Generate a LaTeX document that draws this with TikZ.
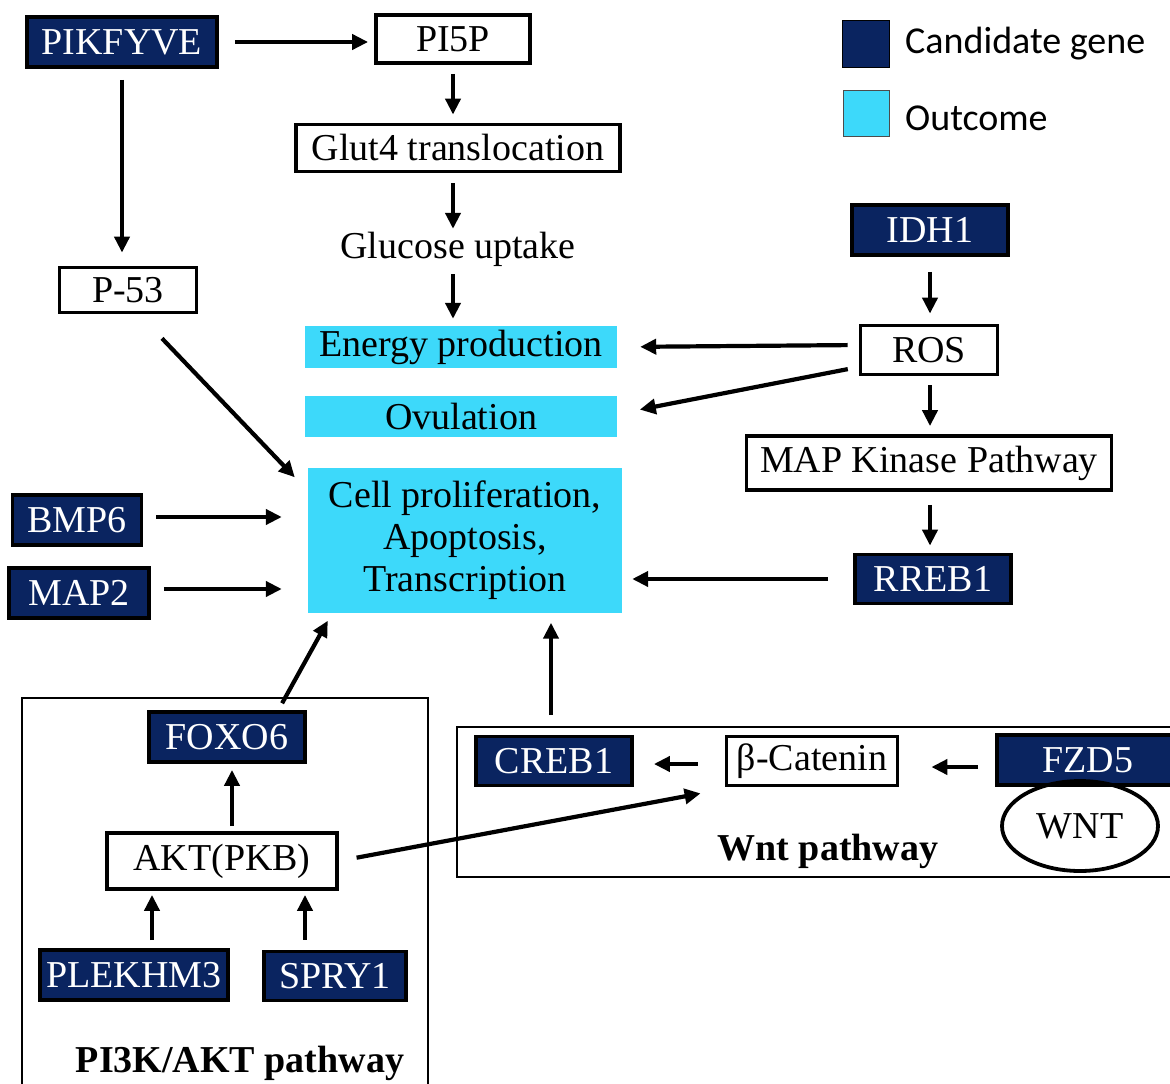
\documentclass[tikz,border=0pt]{standalone}
\usepackage{fontspec}
\setmainfont{Liberation Serif}
\newfontfamily\legendfont{Carlito}
\usetikzlibrary{arrows.meta,shapes.geometric}
\definecolor{navyc}{RGB}{10,36,96}
\definecolor{cyanc}{RGB}{61,217,250}
\tikzset{
  base/.style={inner sep=2pt, anchor=center},
  gene/.style={base, fill=navyc, draw=black, line width=3.8pt, text=white},
  plainbox/.style={base, fill=white, draw=black, line width=3.8pt},
  outc/.style={base, fill=cyanc, draw=none},
  arr/.style={-{Triangle[length=16pt,width=15pt]}, line width=4.2pt},
  grp/.style={draw=black, line width=2.5pt},
  lbl/.style={font=\fontsize{38}{42}\selectfont\bfseries}
}
\begin{document}
\begin{tikzpicture}[x=1pt,y=-1pt,font=\fontsize{38}{42}\selectfont]
\useasboundingbox (0,0) rectangle (1170,1084);

% group frames
\draw[grp] (22,1095) -- (22,698) -- (428,698) -- (428,1095);
\draw[grp] (1180,727) -- (457,727) -- (457,877) -- (1180,877);
\coordinate (pitop) at (285,698);
\coordinate (wtop) at (551,727);

% nodes
\node[gene, minimum width=190pt, minimum height=50pt] (pik) at (122,42) {PIKFYVE};
\node[plainbox, minimum width=154pt, minimum height=48pt] (pi5p) at (453,39) {PI5P};
\node[plainbox, minimum width=324pt, minimum height=47pt] (glut) at (458,148) {Glut4 translocation};
\node[base, minimum height=40pt] (gluc) at (458,249) {Glucose uptake};
\node[outc, minimum width=312pt, minimum height=42pt] (energy) at (461,347) {Energy production};
\node[outc, minimum width=312pt, minimum height=41pt] (ovul) at (461,416) {Ovulation};
\node[outc, minimum width=314pt, minimum height=145pt, align=center] (cell) at (465,540) {Cell proliferation,\\Apoptosis,\\Transcription};
\node[plainbox, minimum width=137pt, minimum height=45pt] (p53) at (128,290) {P-53};
\node[gene, minimum width=129pt, minimum height=50pt] (bmp6) at (77,520) {BMP6};
\node[gene, minimum width=140pt, minimum height=50pt] (map2) at (79,593) {MAP2};
\node[gene, minimum width=156pt, minimum height=50pt] (idh1) at (930,230) {IDH1};
\node[plainbox, minimum width=137pt, minimum height=49pt] (ros) at (929,350) {ROS};
\node[plainbox, minimum width=365pt, minimum height=54pt] (mapk) at (929,463) {MAP Kinase Pathway};
\node[gene, minimum width=156pt, minimum height=49pt] (rreb1) at (933,579) {RREB1};
\node[gene, minimum width=156pt, minimum height=50pt] (foxo6) at (227,737) {FOXO6};
\node[plainbox, minimum width=230pt, minimum height=56pt] (akt) at (222,861) {AKT(PKB)};
\node[gene, minimum width=188pt, minimum height=50pt] (plek) at (134,975) {PLEKHM3};
\node[gene, minimum width=142pt, minimum height=49pt] (spry) at (335,976) {SPRY1};
\node[lbl] (pilbl) at (240,1063) {PI3K/AKT pathway};
\node[gene, minimum width=156pt, minimum height=49pt] (creb1) at (554,761) {CREB1};
\node[plainbox, minimum width=171pt, minimum height=49pt] (bcat) at (812,761) {β-Catenin};
\node[gene, minimum width=182pt, minimum height=50pt] (fzd5) at (1088,760) {FZD5};
\node[base, ellipse, draw=black, line width=3.8pt, minimum width=156pt, minimum height=90pt] (wnt) at (1080,826) {WNT};
\node[lbl] (wntlbl) at (828,851) {Wnt pathway};

% legend
\node[base, fill=navyc, draw=black, line width=1pt, minimum width=47pt, minimum height=47pt] (legnavy) at (866,44) {};
\node[base, fill=cyanc, draw=black!70, line width=1pt, minimum width=46pt, minimum height=46pt] (legcyan) at (866,113) {};
\node[anchor=west, inner sep=0pt, font=\legendfont\fontsize{38}{42}\selectfont] (legt1) at (905,44) {Candidate gene};
\node[anchor=west, inner sep=0pt, font=\legendfont\fontsize{38}{42}\selectfont] (legt2) at (905,118) {Outcome};

% arrows
\draw[arr, shorten <=16pt, shorten >=6pt] (pik.east) -- (pik.east -| pi5p.west);
\draw[arr, shorten <=11pt, shorten >=13pt] (pik.south) -- (pik.south |- p53.north);
\draw[arr, shorten <=9pt, shorten >=8pt] (pi5p.south) -- (pi5p.south |- glut.north);
\draw[arr, shorten <=10pt, shorten >=0pt] (pi5p.south |- glut.south) -- (pi5p.south |- gluc.north);
\draw[arr, shorten <=5pt, shorten >=7pt] (pi5p.south |- gluc.south) -- (pi5p.south |- energy.north);
\draw[arr, shorten <=11pt, shorten >=23pt] ([yshift=5pt]ros.west) -- (energy.east);
\draw[arr, shorten <=11pt, shorten >=23pt] ([yshift=-17pt]ros.west) -- ([yshift=2pt]ovul.east);
\draw[arr, shorten <=15pt, shorten >=10pt] (idh1.south) -- (idh1.south |- ros.north);
\draw[arr, shorten <=9pt, shorten >=8pt] (idh1.south |- ros.south) -- (idh1.south |- mapk.north);
\draw[arr, shorten <=13pt, shorten >=7pt] (idh1.south |- mapk.south) -- (idh1.south |- rreb1.north);
\draw[arr, shorten <=25pt, shorten >=10pt] (rreb1.west) -- (rreb1.west -| cell.east);
\draw[arr] ([xshift=34pt,yshift=-24pt]p53.south) -- ([xshift=-13pt,yshift=-10pt]cell.north west);
\draw[arr, shorten <=13pt, shorten >=26pt] ([yshift=3pt]bmp6.east) -- ([yshift=3pt]bmp6.east -| cell.west);
\draw[arr, shorten <=13pt, shorten >=26pt] ([yshift=4pt]map2.east) -- ([yshift=4pt]map2.east -| cell.west);
\draw[arr, shorten <=5pt, shorten >=6pt] ([xshift=10pt]akt.north) -- ([xshift=10pt]akt.north |- foxo6.south);
\draw[arr, shorten <=8pt, shorten >=4pt] ([xshift=18pt]plek.north) -- ([xshift=18pt]plek.north |- akt.south);
\draw[arr, shorten <=10pt, shorten >=4pt] ([xshift=-30pt]spry.north) -- ([xshift=-30pt]spry.north |- akt.south);
\draw[arr, shorten <=18pt] (akt.east) -- ([xshift=-24pt,yshift=-6pt]bcat.south west);
\draw[arr, shorten <=27pt, shorten >=20pt] ([yshift=-3pt]bcat.west) -- ([yshift=-3pt]bcat.west -| creb1.east);
\draw[arr, shorten <=17pt, shorten >=32pt] ([yshift=-7pt]fzd5.west) -- ([yshift=-7pt]fzd5.west -| bcat.east);
\draw[arr, shorten <=-6pt] (pitop) -- ([xshift=20pt,yshift=-8pt]cell.south west);
\draw[arr, shorten <=12pt, shorten >=10pt] (wtop) -- (wtop |- cell.south);
\end{tikzpicture}
\end{document}
